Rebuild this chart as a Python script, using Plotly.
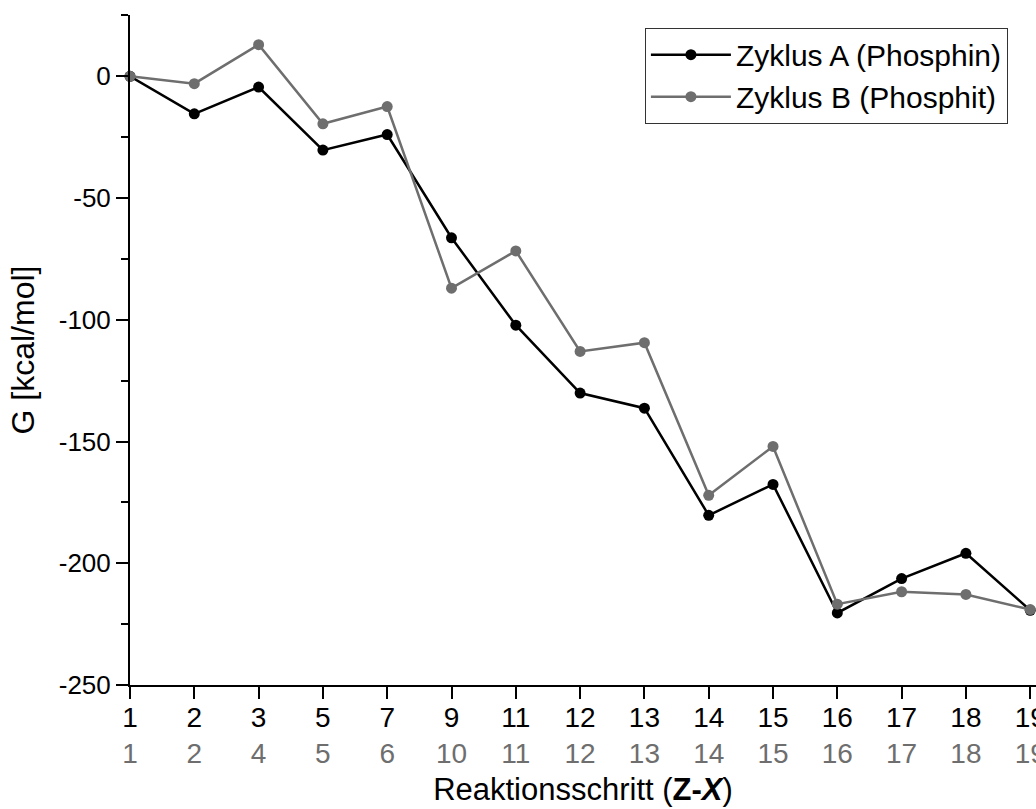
import plotly.graph_objects as go

# Reaction step labels for the two catalytic cycles (shared x positions)
steps_a = ["1", "2", "3", "5", "7", "9", "11", "12", "13", "14", "15", "16", "17", "18", "19"]
steps_b = ["1", "2", "4", "5", "6", "10", "11", "12", "13", "14", "15", "16", "17", "18", "19"]

# Free energies G in kcal/mol
g_a = [0, -15.4, -4.4, -30.3, -23.9, -66.3, -102.2, -130.1, -136.3,
       -180.3, -167.6, -220.4, -206.3, -195.9, -219.3]
g_b = [0, -3.0, 13.0, -19.5, -12.4, -87.0, -71.7, -113.0, -109.4,
       -172.1, -152.0, -216.8, -211.7, -212.8, -219.0]

# y-axis tick values (labels written with a plain hyphen)
g_ticks = [0, -50, -100, -150, -200, -250]

GRAY = "#6e6e6e"
FONT = "Liberation Sans, Arial, sans-serif"

positions = list(range(len(steps_a)))
tick_text = [f"{a}<br><span style='color:{GRAY}'>{b}</span>" for a, b in zip(steps_a, steps_b)]

fig = go.Figure()
fig.add_trace(go.Scatter(
    x=positions, y=g_a, mode="lines+markers", name="Zyklus A (Phosphin)",
    line=dict(color="black", width=2.5), marker=dict(color="black", size=11),
    cliponaxis=False,
))
fig.add_trace(go.Scatter(
    x=positions, y=g_b, mode="lines+markers", name="Zyklus B (Phosphit)",
    line=dict(color=GRAY, width=2.5), marker=dict(color=GRAY, size=11),
    cliponaxis=False,
))

fig.update_layout(
    width=1036, height=809,
    margin=dict(l=130, r=0, t=15, b=124, autoexpand=False),
    paper_bgcolor="white", plot_bgcolor="white",
    font=dict(family=FONT, color="black"),
    showlegend=True,
    legend=dict(
        x=0.969, y=0.981, xanchor="right", yanchor="top",
        bgcolor="white", bordercolor="#333333", borderwidth=1,
        font=dict(size=30, family=FONT, color="black"),
        itemwidth=80, tracegroupgap=0,
    ),
)

fig.update_xaxes(
    range=[0, 14.09], tickmode="array", tickvals=positions, ticktext=tick_text,
    automargin=False,
    showgrid=False, zeroline=False, showline=True, linecolor="black", linewidth=2,
    ticks="outside", ticklen=12, tickwidth=2, tickcolor="black",
    tickfont=dict(size=28, family=FONT, color="black"),
    ticklabeloverflow="allow", ticklabelstandoff=-6,
    title=dict(text="Reaktionsschritt (<b>Z-<i>X</i></b>)",
               font=dict(size=31, family=FONT, color="black"), standoff=10),
)
fig.update_yaxes(
    range=[-250, 25.2], tickmode="array", tickvals=g_ticks,
    ticktext=[str(v) for v in g_ticks],
    automargin=False,
    showgrid=False, zeroline=False, showline=True, linecolor="black", linewidth=2,
    ticks="outside", ticklen=12, tickwidth=2, tickcolor="black",
    minor=dict(ticks="outside", ticklen=7, tickwidth=2, tickcolor="black",
               tickmode="linear", tick0=0, dtick=25, showgrid=False),
    tickfont=dict(size=26, family=FONT, color="black"),
    title=dict(text="G [kcal/mol]", font=dict(size=32, family=FONT, color="black"), standoff=15),
)

fig.write_html("out.html")
